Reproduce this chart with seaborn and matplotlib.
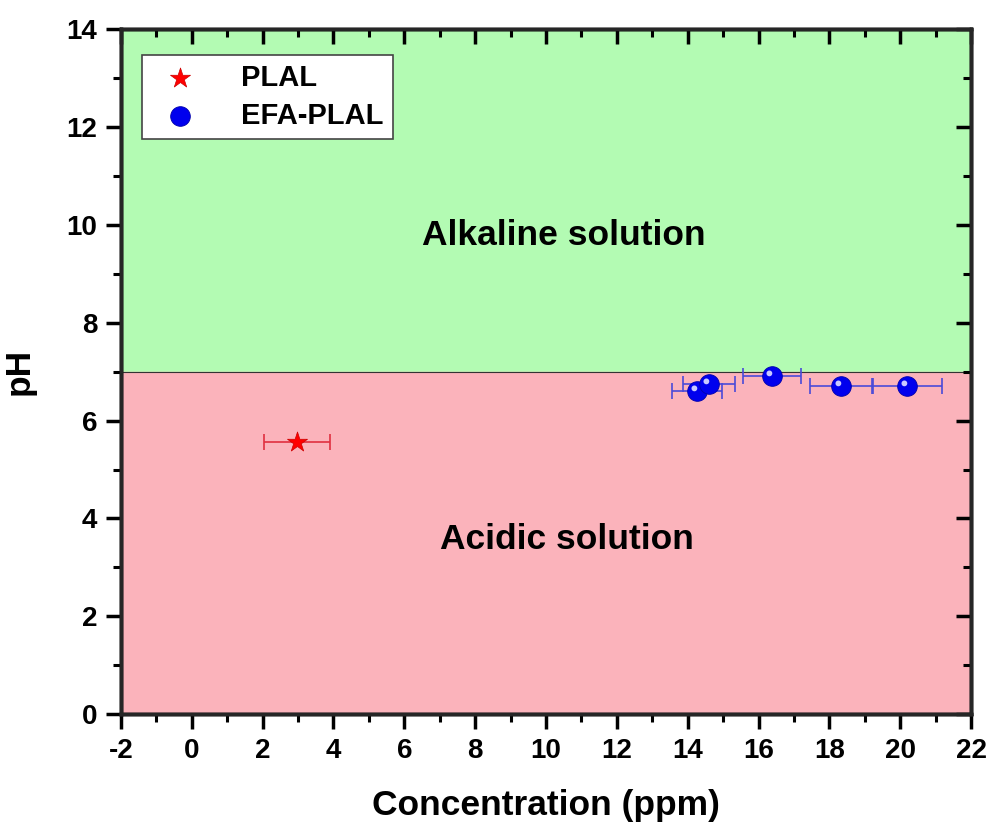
import matplotlib
matplotlib.use("Agg")
import matplotlib.pyplot as plt
import seaborn as sns
import numpy as np
from matplotlib.path import Path

# data
plal_conc = [2.98]
plal_ph = [5.56]
plal_err = [0.93]

efa_conc = [14.26, 14.60, 16.38, 18.33, 20.19]
efa_ph = [6.60, 6.74, 6.91, 6.70, 6.71]
efa_err = [0.71, 0.74, 0.82, 0.89, 0.99]

xticks = list(range(-2, 23, 2))
yticks = list(range(0, 15, 2))
neutral_ph = 7

sns.set_style("ticks")
plt.rcParams['font.family'] = ['Liberation Sans', 'DejaVu Sans']
plt.rcParams['font.weight'] = 'bold'
plt.rcParams['text.color'] = 'black'
plt.rcParams['axes.labelcolor'] = 'black'
plt.rcParams['xtick.color'] = 'black'
plt.rcParams['ytick.color'] = 'black'

fig = plt.figure(figsize=(9.91, 8.23), dpi=100)
ax = fig.add_axes([0.122, 0.132, 0.858, 0.833])

# background regions
ax.axhspan(neutral_ph, 14, color='#b3fbb3', zorder=0)
ax.axhspan(0, neutral_ph, color='#fbb3bb', zorder=0)
ax.axhline(neutral_ph, color='#333333', lw=0.8, zorder=1)

# error bars
ax.errorbar(plal_conc, plal_ph, xerr=plal_err, fmt='none', ecolor='#e03040',
            elinewidth=1.2, capsize=6, capthick=1.2, zorder=2)
ax.errorbar(efa_conc, efa_ph, xerr=efa_err, fmt='none', ecolor='#4a4ad8',
            elinewidth=1.2, capsize=6, capthick=1.2, zorder=2)

sns.scatterplot(x=plal_conc, y=plal_ph, marker='*', s=230, color='red',
                edgecolor='#cc0000', linewidth=0.5, ax=ax, zorder=3, label='PLAL')
sns.scatterplot(x=efa_conc, y=efa_ph, marker='o', s=200, color='#0000ee',
                edgecolor='#0000aa', linewidth=0.6, ax=ax, zorder=3, label='EFA-PLAL')

# sphere highlight
t = np.linspace(0, 2 * np.pi, 40)
hl = Path(np.column_stack([-0.3 + 0.28 * np.cos(t), 0.3 + 0.28 * np.sin(t)]), closed=True)
ax.scatter(efa_conc, efa_ph, marker=hl, s=75, color='#c8c8ff', linewidth=0, zorder=4)

ax.text(10.5, 9.77, 'Alkaline solution', ha='center', va='center',
        fontsize=25.5, fontweight='bold')
ax.text(10.6, 3.58, 'Acidic solution', ha='center', va='center',
        fontsize=25.5, fontweight='bold')

ax.set_xlim(-2, 22)
ax.set_ylim(0, 14)
ax.set_xticks(xticks)
ax.set_yticks(yticks)
ax.set_xticklabels([str(v) for v in xticks])
ax.set_yticklabels([str(v) for v in yticks])
ax.xaxis.set_minor_locator(matplotlib.ticker.MultipleLocator(1))
ax.yaxis.set_minor_locator(matplotlib.ticker.MultipleLocator(1))

for s in ax.spines.values():
    s.set_linewidth(2.5)
    s.set_color('black')

ax.tick_params(which='major', length=11, width=2.5, labelsize=20, direction='out',
               pad=6)
ax.tick_params(which='minor', length=6, width=2.2, direction='out')
# second set of axes for the inward top/right ticks
ax2 = ax.twinx()
ax2.set_ylim(0, 14)
ax2.set_yticks(yticks)
ax2.yaxis.set_minor_locator(matplotlib.ticker.MultipleLocator(1))
ax2.tick_params(axis='y', which='major', direction='in', length=11, width=2.5, labelright=False)
ax2.tick_params(axis='y', which='minor', direction='in', length=6, width=2.2)
ax3 = ax.twiny()
ax3.set_xlim(-2, 22)
ax3.set_xticks(xticks)
ax3.xaxis.set_minor_locator(matplotlib.ticker.MultipleLocator(1))
ax3.tick_params(axis='x', which='major', direction='in', length=11, width=2.5, labeltop=False)
ax3.tick_params(axis='x', which='minor', direction='in', length=6, width=2.2)
for a in (ax2, ax3):
    for s in a.spines.values():
        s.set_linewidth(2.5)

ax.set_xlabel('Concentration (ppm)', fontsize=25.5, fontweight='bold', labelpad=18)
ax.set_ylabel('pH', fontsize=25.5, fontweight='bold', labelpad=22)

leg = ax.legend(loc='upper left', bbox_to_anchor=(0.025, 0.962), fontsize=21,
                frameon=True, fancybox=False, edgecolor='#444444',
                framealpha=1, borderpad=0.3, handletextpad=1.1, labelspacing=0.35,
                borderaxespad=0)
leg.get_frame().set_linewidth(1.2)
leg.set_zorder(10)

fig.savefig('out.png', dpi=100)
